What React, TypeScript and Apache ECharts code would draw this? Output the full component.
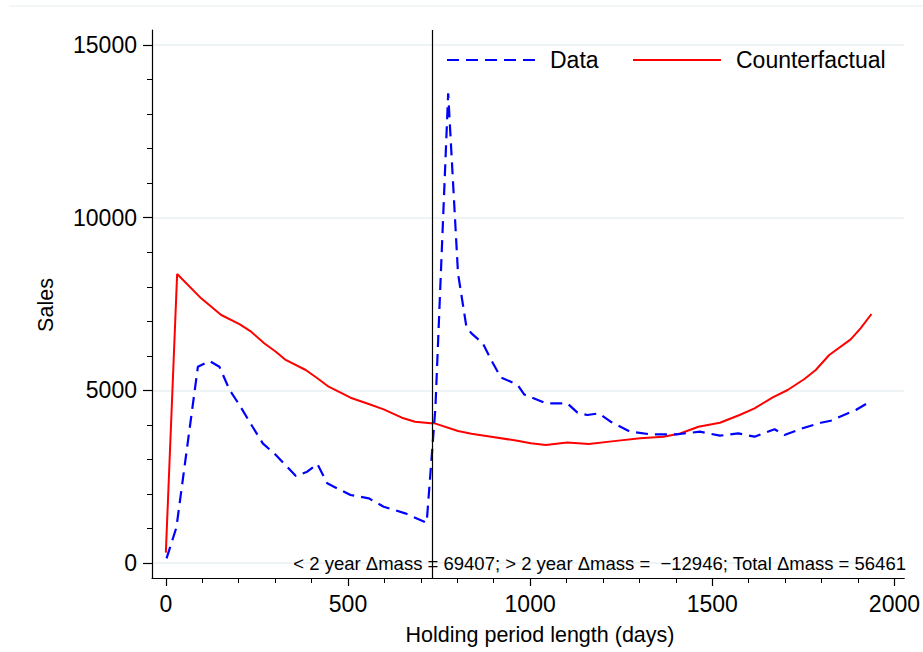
import React, { useEffect, useRef } from "react";
import * as echarts from "echarts";

// Holding period (days) and sales
const dataSeries: [number, number][] = [
  [2, 136], [29, 1030], [88, 5685], [120, 5850], [147, 5685], [175, 5010], [202, 4576],
  [238, 3947], [266, 3466], [302, 3128], [357, 2520], [388, 2644], [416, 2867], [443, 2308],
  [507, 1969], [557, 1874], [598, 1630], [657, 1439], [716, 1167], [740, 4500], [775, 13602],
  [802, 8390], [825, 6843], [839, 6652], [870, 6363], [898, 5783], [920, 5370], [947, 5250],
  [966, 5155], [984, 4880], [1043, 4625], [1102, 4625], [1130, 4354], [1157, 4286],
  [1189, 4335], [1221, 4092], [1275, 3803], [1330, 3727], [1402, 3727], [1466, 3803],
  [1521, 3687], [1571, 3756], [1616, 3658], [1671, 3872], [1698, 3707], [1748, 3901],
  [1798, 4063], [1825, 4121], [1894, 4431], [1930, 4654],
];

const counterfactualSeries: [number, number][] = [
  [0, 300], [31, 8370], [97, 7665], [152, 7182], [202, 6920], [234, 6700], [270, 6363],
  [302, 6120], [329, 5880], [384, 5590], [416, 5350], [447, 5106], [507, 4788], [557, 4605],
  [598, 4450], [648, 4208], [684, 4092], [727, 4045], [738, 4045], [802, 3823], [839, 3745],
  [893, 3658], [957, 3553], [1002, 3466], [1043, 3420], [1102, 3490], [1161, 3446],
  [1230, 3530], [1302, 3611], [1366, 3658], [1412, 3750], [1462, 3947], [1521, 4063],
  [1575, 4286], [1616, 4480], [1666, 4799], [1707, 5010], [1753, 5329], [1784, 5589],
  [1821, 6024], [1880, 6478], [1907, 6797], [1937, 7211],
];

const seriesNames = ["Data", "Counterfactual"];
const xMajorTicks = [0, 500, 1000, 1500, 2000];
const xMinorTicks = [100, 200, 300, 400, 600, 700, 800, 900, 1100, 1200, 1300, 1400, 1600, 1700, 1800, 1900];
const yMajorTicks = [0, 5000, 10000, 15000];
const yMinorTicks = [1000, 2000, 3000, 4000, 6000, 7000, 8000, 9000, 11000, 12000, 13000, 14000];
const cutoffDay = 730;
const annotation = "< 2 year \u0394mass = 69407; > 2 year \u0394mass =  \u221212946; Total \u0394mass = 56461";

const X_MIN = -38, X_MAX = 2027, Y_MIN = -434, Y_MAX = 15436;
const FONT = "Liberation Sans, Arial, Helvetica, sans-serif";
const BLUE = "#0000ff";
const RED = "#ff0000";
const DASH = [12, 7];

export default function App() {
  const ref = useRef<HTMLDivElement>(null);
  useEffect(() => {
    if (!ref.current) return;
    const chart = echarts.init(ref.current, undefined, { renderer: "svg" });
    const baseX = { type: "value" as const, min: X_MIN, max: X_MAX };
    const baseY = { type: "value" as const, min: Y_MIN, max: Y_MAX };
    const plain = (v: number) => String(v);
    chart.setOption({
      animation: false,
      backgroundColor: "#ffffff",
      grid: { left: 152, right: 14, top: 30, bottom: 74 },
      xAxis: [
        {
          ...baseX,
          axisLine: { show: true, onZero: false, lineStyle: { color: "#000", width: 1.2 } },
          axisTick: { show: true, customValues: xMajorTicks, length: 8, lineStyle: { color: "#000", width: 1.2 } },
          axisLabel: { customValues: xMajorTicks, formatter: plain, margin: 14, fontFamily: FONT, fontSize: 23, color: "#000" },
          splitLine: { show: false },
        },
        {
          ...baseX,
          axisLine: { show: false, onZero: false },
          axisTick: { show: true, customValues: xMinorTicks, length: 5, lineStyle: { color: "#000", width: 1 } },
          axisLabel: { show: false },
          splitLine: { show: false },
          position: "bottom",
        },
      ],
      yAxis: [
        {
          ...baseY,
          axisLine: { show: true, onZero: false, lineStyle: { color: "#000", width: 1.2 } },
          axisTick: { show: true, customValues: yMajorTicks, length: 9, lineStyle: { color: "#000", width: 1.2 } },
          axisLabel: { customValues: yMajorTicks, formatter: plain, margin: 15, fontFamily: FONT, fontSize: 23, color: "#000" },
          splitLine: { show: true, lineStyle: { color: "#e8eff2", width: 1.5 } },
        },
        {
          ...baseY,
          axisLine: { show: false, onZero: false },
          axisTick: { show: true, customValues: yMinorTicks, length: 5, lineStyle: { color: "#000", width: 1 } },
          axisLabel: { show: false },
          splitLine: { show: false },
          position: "left",
        },
      ],
      graphic: [
        { type: "line", shape: { x1: 9, y1: 6, x2: 923, y2: 6 }, style: { stroke: "#eef3f5", lineWidth: 1.5 }, silent: true },
        // legend
        { type: "line", shape: { x1: 447, y1: 60, x2: 535, y2: 60 }, style: { stroke: BLUE, lineWidth: 2.2, lineDash: DASH } },
        {
          type: "text", x: 550, y: 60,
          style: { text: seriesNames[0], fontFamily: FONT, fontSize: 23, fill: "#000", align: "left", verticalAlign: "middle" },
        },
        { type: "line", shape: { x1: 633, y1: 60, x2: 721, y2: 60 }, style: { stroke: RED, lineWidth: 2 } },
        {
          type: "text", x: 736, y: 60,
          style: { text: seriesNames[1], fontFamily: FONT, fontSize: 23, fill: "#000", align: "left", verticalAlign: "middle" },
        },
        {
          type: "text", x: 906, y: 563, z: 5,
          style: { text: annotation, fontFamily: FONT, fontSize: 18.5, fill: "#000", align: "right", verticalAlign: "middle" },
        },
        {
          type: "text", x: 540, y: 635,
          style: { text: "Holding period length (days)", fontFamily: FONT, fontSize: 21.5, fill: "#000", align: "center", verticalAlign: "middle" },
        },
        {
          type: "text", x: 46, y: 305, rotation: Math.PI / 2,
          style: { text: "Sales", fontFamily: FONT, fontSize: 21.5, fill: "#000", align: "center", verticalAlign: "middle" },
        },
      ],
      series: [
        {
          name: seriesNames[0],
          type: "line",
          data: dataSeries,
          showSymbol: false,
          symbol: "none",
          color: BLUE,
          lineStyle: { color: BLUE, width: 2.2, type: DASH },
          z: 3,
        },
        {
          name: seriesNames[1],
          type: "line",
          data: counterfactualSeries,
          showSymbol: false,
          symbol: "none",
          color: RED,
          lineStyle: { color: RED, width: 2 },
          z: 2,
          markLine: {
            silent: true,
            symbol: "none",
            label: { show: false },
            lineStyle: { color: "#000", width: 1.2, type: "solid" },
            data: [{ xAxis: cutoffDay }],
            z: 10,
          },
        },
      ],
    });
    return () => chart.dispose();
  }, []);
  return <div ref={ref} style={{ position: "fixed", left: 0, top: 0, width: 923, height: 652 }} />;
}
